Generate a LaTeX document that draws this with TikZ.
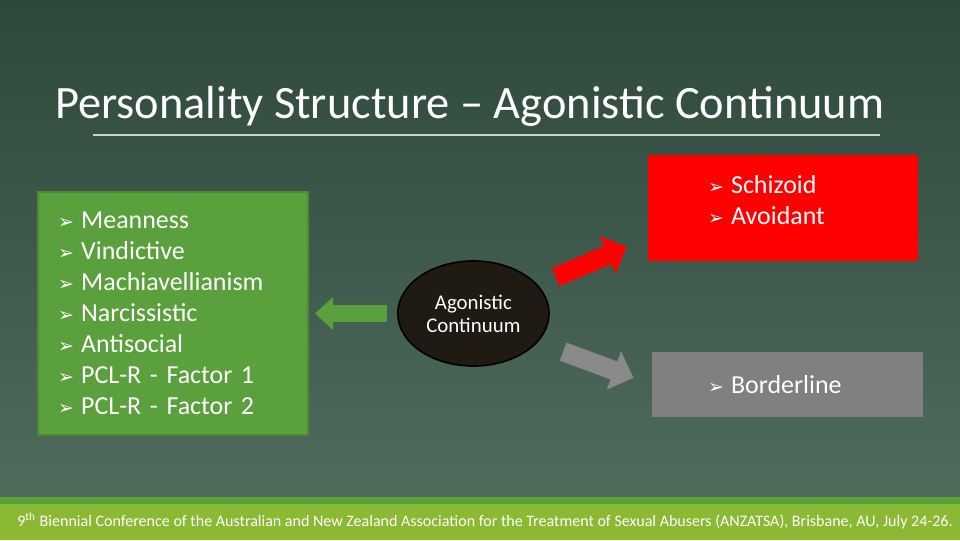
\documentclass[tikz,border=0pt]{standalone}
\usepackage{fontspec}
\setmainfont{Carlito}
\newfontfamily\dingfont{DejaVu Sans}
\usetikzlibrary{arrows.meta,calc,positioning,shapes.geometric}
\definecolor{bgtop}{RGB}{46,72,59}
\definecolor{bgbottom}{RGB}{80,108,94}
\definecolor{agogreen}{RGB}{90,160,60}
\definecolor{agogreendark}{RGB}{76,138,51}
\definecolor{footgreen}{RGB}{139,185,51}
\definecolor{footstripe}{RGB}{91,159,58}
\definecolor{agored}{RGB}{255,0,0}
\definecolor{agogray}{RGB}{128,128,128}
\definecolor{arrowgray}{RGB}{138,138,138}
\definecolor{ellfill}{RGB}{31,26,18}
\newcommand{\bul}{{\dingfont\fontsize{9}{9}\selectfont ➢}\hspace{0.12cm}}

\begin{document}
\begin{tikzpicture}[
      card/.style={minimum width=4.5cm, inner sep=0pt, align=left, text=white, font=\fontsize{12.3}{14.7}\selectfont},
      blockarrow/.style={line width=0.32cm, -{Triangle[width=0.66cm, length=0.35cm]}}
    ]
      % background and footer band
      \useasboundingbox (0,0) rectangle (16,9);
      \shade[top color=bgtop, bottom color=bgbottom] (0,0.6) rectangle (16,9);
      \fill[footstripe] (0,0.6) rectangle (16,0.717);
      \fill[footgreen] (0,0) rectangle (16,0.6);

      % title
      \node[anchor=base, text=white, font=\fontsize{22}{26}\selectfont] (title) at (7.83,7.03) {Personality Structure – Agonistic Continuum};
      \draw[white!75!bgtop, line width=0.5pt] (1.55,6.75) -- (14.667,6.75);

      % boxes
      \node[card, fill=agogreen, draw=agogreendark, line width=1pt, minimum height=4.05cm, text width=3.83cm] (darkbox) at (2.883,3.775) {
        \bul Meanness\\
        \bul Vindictive\\
        \bul Machiavellianism\\
        \bul Narcissistic\\
        \bul Antisocial\\
        \bul PCL-R - Factor 1\\
        \bul PCL-R - Factor 2
      };
      \node[ellipse, fill=ellfill, draw=black, line width=0.8pt, minimum width=2.52cm, minimum height=1.75cm, inner sep=0pt, align=center, text=white, font=\fontsize{9.9}{10.9}\selectfont] (agon) at (7.89,3.775) {Agonistic\\Continuum};
      \node[card, fill=agored, minimum height=1.767cm, text width=2.5cm] (schizbox) at (13.05,5.533) {
        \bul Schizoid\\
        \bul Avoidant\par\vspace{0.27cm}
      };
      \node[card, fill=agogray, minimum width=4.517cm, minimum height=1.083cm, text width=2.65cm] (borderbox) at (13.125,2.592) {\bul Borderline};

      % arrows out of the continuum
      \draw[blockarrow, agogreen, line width=0.28cm, -{Triangle[width=0.53cm, length=0.3cm]}, shorten <=0.17cm, shorten >=0.1cm] (agon.west) -- (darkbox.east);
      \draw[blockarrow, agored, shorten <=0.325cm, shorten >=0.375cm] (agon.24) -- ($(schizbox.south west)!0.22!(schizbox.north west)$);
      \draw[blockarrow, arrowgray, shorten <=0.45cm, shorten >=0.32cm] (agon.-24) -- (borderbox.west);

      % footer
      \node[text=white, font=\fontsize{7.6}{9}\selectfont] (footer) at (8.083,0.317) {9\textsuperscript{th} Biennial Conference of the Australian and New Zealand Association for the Treatment of Sexual Abusers (ANZATSA), Brisbane, AU, July 24-26.};
    \end{tikzpicture}
\end{document}
